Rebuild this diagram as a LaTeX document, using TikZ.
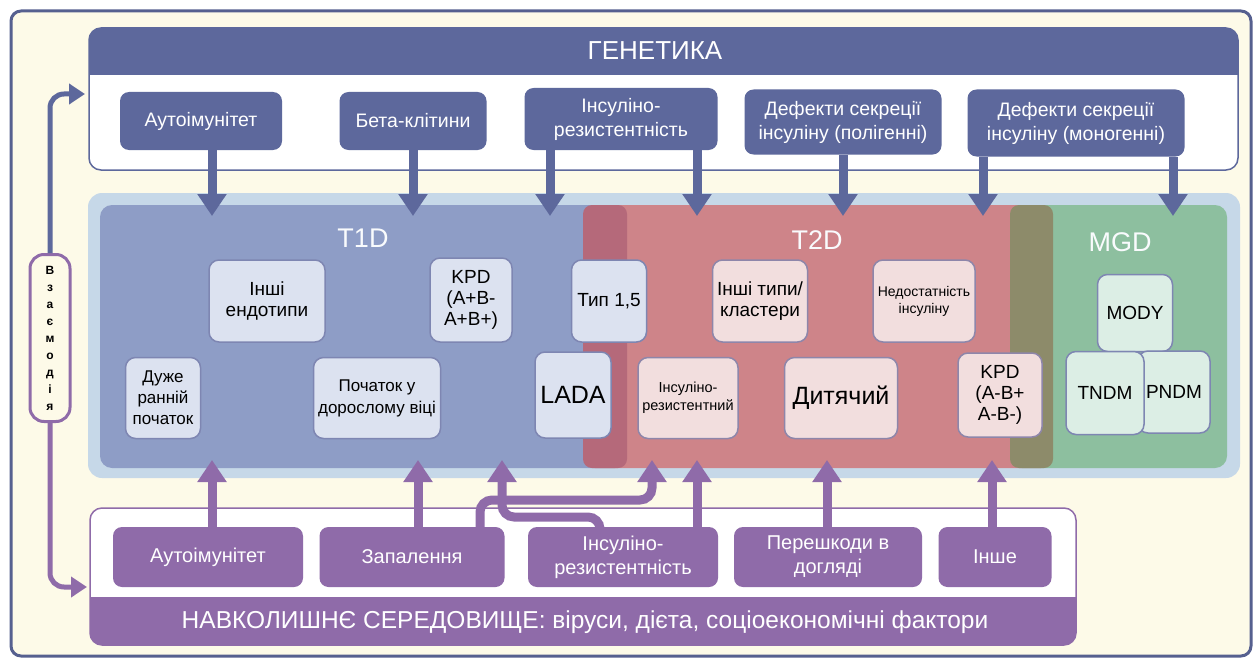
\documentclass[tikz,border=0pt]{standalone}
\usepackage{fontspec}
\setmainfont{Liberation Sans}
\usetikzlibrary{arrows.meta}
\definecolor{frame}{HTML}{56608F}
\definecolor{cream}{HTML}{FDFAE8}
\definecolor{genblue}{HTML}{5D689C}
\definecolor{envpurple}{HTML}{8F6BA9}
\definecolor{panelblue}{HTML}{C6D8E8}
\definecolor{tonecol}{HTML}{8E9DC6}
\definecolor{ttwocol}{HTML}{CE8489}
\definecolor{mgdcol}{HTML}{8DBF9F}
\definecolor{bandrose}{HTML}{B5697A}
\definecolor{bandolive}{HTML}{8D8B6A}
\definecolor{onefill}{HTML}{DCE2F0}
\definecolor{twofill}{HTML}{F2DEDE}
\definecolor{mfill}{HTML}{DCEEE5}
\definecolor{boxline}{HTML}{7E86B2}
\tikzset{
  gbox/.style={fill=genblue, text=white, rounded corners=9pt, align=center, inner sep=0pt,
    font=\fontsize{19.5}{24}\selectfont},
  ebox/.style={fill=envpurple, text=white, rounded corners=9pt, align=center, inner sep=0pt,
    font=\fontsize{20}{24}\selectfont},
  onebox/.style={draw=boxline, fill=onefill, line width=1.5pt, rounded corners=10pt, align=center,
    inner sep=0pt, font=\fontsize{19}{21}\selectfont},
  twobox/.style={onebox, draw=boxline!80!ttwocol, fill=twofill},
  mbox/.style={onebox, fill=mfill},
  lbl/.style={text=white!90!panelblue, font=\fontsize{27}{30}\selectfont},
  garrow/.style={genblue, line width=9pt, -{Triangle[length=22pt,width=28pt]}},
  parrow/.style={envpurple, line width=9pt, -{Triangle[length=22pt,width=28pt]}},
  varrow/.style={line width=5pt, rounded corners=14pt, -{Triangle[length=16pt,width=20pt]}}
}
\begin{document}
\begin{tikzpicture}[x=1pt,y=-1pt]
\useasboundingbox (0,0) rectangle (1259,661);
\draw[frame, fill=cream, line width=3pt, rounded corners=10pt] (11,11) rectangle (1251,656);

\draw[genblue, fill=white, line width=1.5pt, rounded corners=12pt] (89,28) rectangle (1238,170);
\fill[genblue, rounded corners=12pt] (89,28) rectangle (1238,60);
\fill[genblue] (89,45) rectangle (1238,75);
\node[text=white, font=\fontsize{26}{28}\selectfont] (gtitle) at (655,51) {ГЕНЕТИКА};

\draw[envpurple, fill=white, line width=1.5pt, rounded corners=12pt] (90,508) rectangle (1076,645);
\fill[envpurple, rounded corners=12pt] (90,612) rectangle (1076,645);
\fill[envpurple] (90,597) rectangle (1076,625);
\node[text=white, font=\fontsize{24.5}{26}\selectfont] (etitle) at (585,622)
  {НАВКОЛИШНЄ СЕРЕДОВИЩЕ: віруси, дієта, соціоекономічні фактори};

\fill[panelblue, rounded corners=14pt] (88,193) rectangle (1240,478);
\fill[tonecol, rounded corners=12pt] (100,205) rectangle (627,468);
\fill[ttwocol, rounded corners=12pt] (583,205) rectangle (1053,468);
\fill[mgdcol, rounded corners=12pt] (1010,205) rectangle (1227,468);
\fill[bandrose, rounded corners=9pt] (583,205) rectangle (627,468);
\fill[bandolive, rounded corners=9pt] (1010,205) rectangle (1053,468);
\node[lbl] (L1) at (363,238) {T1D};
\node[lbl] (L2) at (817,240) {T2D};
\node[lbl] (L3) at (1120,242) {MGD};

\node[gbox, minimum width=162pt, minimum height=58pt] (G1) at (201,121) {Аутоімунітет};
\node[gbox, minimum width=147pt, minimum height=58pt] (G2) at (413,121) {Бета-клітини};
\node[gbox, minimum width=193pt, minimum height=62pt] (G3) at (621,119) {Інсуліно-\\резистентність};
\node[gbox, minimum width=197pt, minimum height=65pt] (G4) at (843,122) {Дефекти секреції\\інсуліну (полігенні)};
\node[gbox, minimum width=217pt, minimum height=67pt] (G5) at (1076,123) {Дефекти секреції\\інсуліну (моногенні)};

\node[ebox, minimum width=190pt, minimum height=60pt] (E1) at (208,557) {Аутоімунітет};
\node[ebox, minimum width=185pt, minimum height=60pt] (E2) at (412,557) {Запалення};
\node[ebox, minimum width=190pt, minimum height=60pt] (E3) at (623,557) {Інсуліно-\\резистентність};
\node[ebox, minimum width=188pt, minimum height=60pt] (E4) at (828,557) {Перешкоди в\\догляді};
\node[ebox, minimum width=113pt, minimum height=60pt] (E5) at (995,557) {Інше};

\node[onebox, minimum width=116pt, minimum height=82pt] (endo) at (267,301) {Інші\\ендотипи};
\node[onebox, minimum width=82pt, minimum height=84pt] (kpdA) at (471,300) {KPD\\(A+B-\\A+B+)};
\node[onebox, minimum width=75pt, minimum height=81pt, font=\fontsize{17}{21}\selectfont] (early) at (163,398) {Дуже\\ранній\\початок};
\node[onebox, minimum width=127pt, minimum height=81pt, font=\fontsize{17}{22}\selectfont] (adult) at (377,398) {Початок у\\дорослому віці};
\node[onebox, minimum width=76pt, minimum height=86pt, font=\fontsize{25}{27}\selectfont] (lada) at (573,395) {LADA};
\node[onebox, minimum width=75pt, minimum height=82pt] (t15) at (609,301) {Тип 1,5};

\node[twobox, minimum width=100pt, minimum height=81pt, font=\fontsize{14.5}{18}\selectfont] (resist) at (688,398) {Інсуліно-\\резистентний};
\node[twobox, minimum width=95pt, minimum height=82pt] (clus) at (760,301) {Інші типи/\\кластери};
\node[twobox, minimum width=102pt, minimum height=82pt, font=\fontsize{14}{17}\selectfont] (insuf) at (924,301) {Недостатність\\інсуліну};
\node[twobox, minimum width=113pt, minimum height=81pt, font=\fontsize{25}{27}\selectfont] (child) at (841,398) {Дитячий};
\node[twobox, minimum width=84pt, minimum height=84pt] (kpdB) at (1000,395) {KPD\\(A-B+\\A-B-)};

\node[mbox, minimum width=75pt, minimum height=77pt] (mody) at (1135,313) {MODY};
\node[mbox, minimum width=72pt, minimum height=82pt] (pndm) at (1174,392) {PNDM};
\node[mbox, minimum width=78pt, minimum height=83pt] (tndm) at (1105,393) {TNDM};

\foreach \s/\x in {G1/212,G2/413,G3/550,G3/697,G4/843,G5/983,G5/1173} {
  \coordinate (D\x) at (\x,216);
  \draw[garrow] (\s.south -| D\x) -- (D\x);
}
\foreach \s/\x in {E1/212,E2/418,E3/697,E4/827,E5/992} {
  \coordinate (U\x) at (\x,460);
  \draw[parrow] (\s.north -| U\x) -- (U\x);
}
\coordinate (U652) at (652,460);
\coordinate (U502) at (502,460);
\coordinate (zbend) at (480,500);
\coordinate (ibend) at (600,517);
\draw[parrow, rounded corners=12pt] (E3.north -| ibend) -- (ibend) -| (U502);
\draw[parrow, rounded corners=12pt] (E2.north -| zbend) -- (zbend) -| (U652);

\node[draw=envpurple, fill=cream, line width=3pt, rounded corners=14pt, minimum width=40pt, minimum height=167pt,
  align=center, font=\fontsize{12}{17}\selectfont\bfseries] (vz) at (50,338) {В\\з\\а\\є\\м\\о\\д\\і\\я};
\coordinate (VT) at (85,94);
\coordinate (VB) at (87,587);
\draw[varrow, genblue] (vz.north) |- (VT);
\draw[varrow, envpurple] (vz.south) |- (VB);
\end{tikzpicture}
\end{document}
